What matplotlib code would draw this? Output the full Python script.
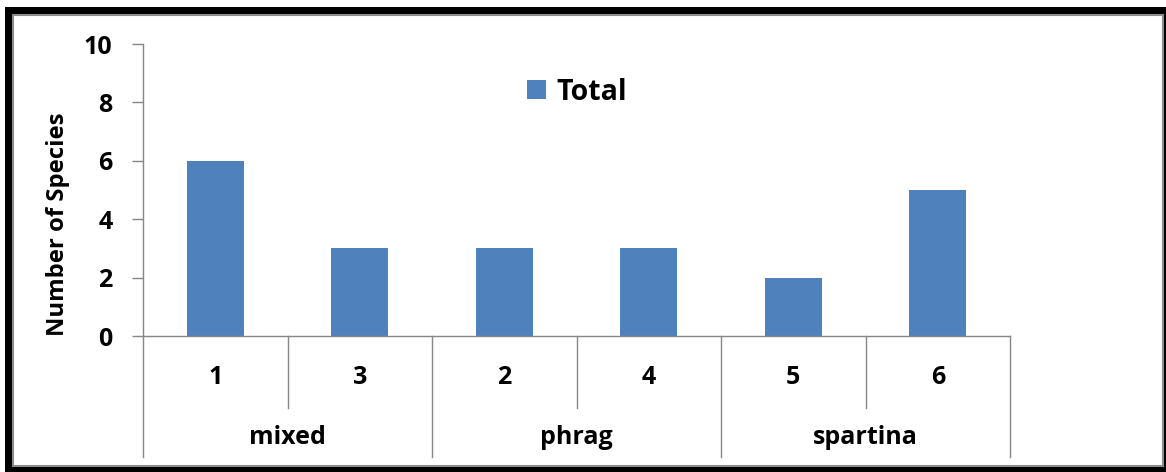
import matplotlib
matplotlib.use("Agg")
import matplotlib.pyplot as plt
from matplotlib.patches import Rectangle
from matplotlib.lines import Line2D

# Species counts per site, grouped by marsh type
sites = ["1", "3", "2", "4", "5", "6"]
groups = ["mixed", "phrag", "spartina"]
sites_per_group = [2, 2, 2]
total_species = [6, 3, 3, 3, 2, 5]
series_name = "Total"
y_ticks = [0, 2, 4, 6, 8, 10]
y_title = "Number of Species"

W, H = 1166, 472
plt.rcParams["font.family"] = ["Open Sans", "DejaVu Sans"]
plt.rcParams["font.weight"] = "bold"

fig = plt.figure(figsize=(W / 100, H / 100), dpi=100)

def fx(px):
    return px / W

def fy(py):
    return 1 - py / H

# Chart frame: dark shadowed border with a thin grey inner edge
fig.patches.append(Rectangle((fx(5), fy(472)), fx(1166 - 5), (472 - 7) / H,
                             transform=fig.transFigure, facecolor="black",
                             edgecolor="none", zorder=0))
fig.patches.append(Rectangle((fx(13), fy(466)), fx(1163 - 13), (466 - 15) / H,
                             transform=fig.transFigure, facecolor="white",
                             edgecolor="#8c8c8c", linewidth=1.5, zorder=0.5))

ax = fig.add_axes([fx(143), fy(336), fx(1010 - 143), (336 - 44) / H])
ax.set_facecolor("none")
ax.set_zorder(2)

x = list(range(len(sites)))
bars = ax.bar(x, total_species, width=0.395, color="#4F81BD", label=series_name,
              zorder=2)

ax.set_xlim(-0.5, len(sites) - 0.5)
ax.set_ylim(0, 10)
ax.set_yticks(y_ticks)
ax.set_yticklabels([str(t) for t in y_ticks], fontsize=18, fontweight="bold")
ax.tick_params(axis="y", length=8, width=1, color="#868686", pad=14)
ax.set_xticks([])

for side in ["top", "right"]:
    ax.spines[side].set_visible(False)
for side in ["left", "bottom"]:
    ax.spines[side].set_color("#868686")
    ax.spines[side].set_linewidth(1)

# Axis title sits a little below the middle of the value axis
ax.text(-0.098, 0.384, y_title, transform=ax.transAxes, rotation=90,
        ha="center", va="center", fontsize=17.2, fontweight="bold")

# Two-level category axis: site labels above marsh-type labels
axis_h = 336 - 44
inner_bottom = -(408 - 336) / axis_h
outer_bottom = -(457 - 336) / axis_h
site_label_y = -(378 - 336) / axis_h
group_label_y = -(438 - 336) / axis_h
trans = ax.get_xaxis_transform()

for xi, s in zip(x, sites):
    ax.text(xi, site_label_y, s, transform=trans, ha="center", va="center",
            fontsize=18, fontweight="bold")

boundaries = [-0.5]
for n in sites_per_group:
    boundaries.append(boundaries[-1] + n)

for b in boundaries:
    ax.add_line(Line2D([b, b], [0, outer_bottom], transform=trans,
                       color="#868686", linewidth=1, clip_on=False))

start = -0.5
for g, n in zip(groups, sites_per_group):
    for k in range(1, n):
        ax.add_line(Line2D([start + k, start + k], [0, inner_bottom],
                           transform=trans, color="#868686", linewidth=1,
                           clip_on=False))
    ax.text(start + n / 2, group_label_y, g, transform=trans, ha="center",
            va="center", fontsize=18, fontweight="bold")
    start += n

leg = fig.legend(handles=[bars], labels=[series_name], loc="center",
                 bbox_to_anchor=(fx(577), fy(92)), frameon=False,
                 prop={"size": 20.5, "weight": "bold"}, handlelength=0.65,
                 handleheight=0.65, handletextpad=0.35)
leg.set_zorder(3)

fig.savefig("out.png", dpi=100)
